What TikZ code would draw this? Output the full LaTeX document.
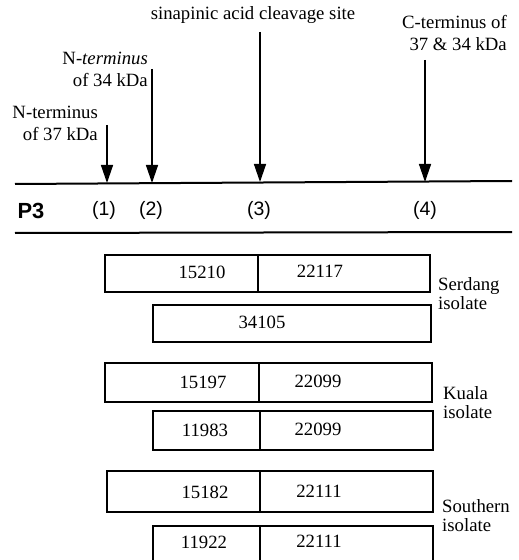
\documentclass[tikz,border=0pt]{standalone}
\usepackage{fontspec}
\setmainfont{Liberation Serif}
\setsansfont{Liberation Sans}
\usetikzlibrary{arrows.meta}
\tikzset{
  segbox/.style={draw=black, line width=1.6bp, rectangle, inner sep=0pt},
  numtxt/.style={font=\fontsize{18.8}{22}\selectfont, inner sep=0pt},
  sitelab/.style={font=\fontsize{18.8}{22}\selectfont, align=right, inner sep=0pt},
  isolab/.style={font=\fontsize{18.8}{19}\selectfont, align=left, anchor=west, inner sep=0pt},
  poslab/.style={font=\sffamily\fontsize{19.5}{22}\selectfont, inner sep=0pt},
  sitearrow/.style={line width=1.4bp, -{Triangle[width=12bp,length=18bp]}},
}
% two boxes side by side: name, left x, divider x, right x, centre y, height
\newcommand{\segpair}[6]{%
  \node[segbox, minimum width={(#3-#2)*1bp}, minimum height=#6bp] (#1a) at ({(#2+#3)/2},#5) {};
  \node[segbox, minimum width={(#4-#3)*1bp}, minimum height=#6bp] (#1b) at ({(#3+#4)/2},#5) {};}

\begin{document}
\begin{tikzpicture}[x=1bp,y=-1bp]
\path[use as bounding box] (0,0) rectangle (519,560);
\clip (0,0) rectangle (519,560);
% the P3 strip
\coordinate (topL) at (15,184); \coordinate (topR) at (512,181);
\coordinate (botL) at (15,233); \coordinate (botR) at (512,232);
\draw[line width=2bp] (topL) -- (topR);
\draw[line width=2bp] (botL) -- (botR);
\node[poslab, font=\sffamily\bfseries\fontsize{22}{24}\selectfont] (p3) at (31,211) {P3};
\node[poslab] (pos1) at (104,210) {(1)};
\node[poslab] (pos2) at (151,210) {(2)};
\node[poslab] (pos3) at (259,210) {(3)};
\node[poslab] (pos4) at (425,210) {(4)};
% sites
\coordinate (s1) at (107,125); \coordinate (e1) at (107,183);
\coordinate (s2) at (152,69);  \coordinate (e2) at (152,183);
\coordinate (s3) at (260,32);  \coordinate (e3) at (260,182);
\coordinate (s4) at (425,60);  \coordinate (e4) at (425,182);
\draw[sitearrow] (s1) -- (e1);
\draw[sitearrow] (s2) -- (e2);
\draw[sitearrow] (s3) -- (e3);
\draw[sitearrow] (s4) -- (e4);
\node[sitelab, anchor=east] (nt37) at (98,123) {N-terminus\\of 37 kDa};
\node[sitelab, anchor=east] (nt34) at (148,69) {N-\textit{terminus}\\of 34 kDa};
\node[sitelab] (sacs) at (253,15) {sinapinic acid cleavage site};
\node[sitelab, anchor=east] (ct) at (507,33) {C-terminus of\\37 \& 34 kDa};
% Serdang
\segpair{ser1}{105}{258}{430}{273.5}{37}
\node[segbox, minimum width=278bp, minimum height=37bp] (ser2) at (292,323.5) {};
\node[numtxt] (v15210) at (202,272) {15210};
\node[numtxt] (v22117) at (320,271) {22117};
\node[numtxt] (v34105) at (262,322) {34105};
\node[isolab] (serdang) at (438,294) {Serdang\\isolate};
% Kuala
\segpair{kua1}{105}{259}{432}{382.5}{39}
\segpair{kua2}{153}{260}{433}{430.5}{39}
\node[numtxt] (v15197) at (203,382) {15197};
\node[numtxt] (v22099a) at (318,381) {22099};
\node[numtxt] (v11983) at (205,430) {11983};
\node[numtxt] (v22099b) at (318,429) {22099};
\node[isolab] (kuala) at (443,403) {Kuala\\isolate};
% Southern
\segpair{sou1}{107}{260}{433}{491.5}{41}
\segpair{sou2}{153}{260}{433}{546}{40}
\node[numtxt] (v15182) at (205,492) {15182};
\node[numtxt] (v22111a) at (319,491) {22111};
\node[numtxt] (v11922) at (204,542) {11922};
\node[numtxt] (v22111b) at (319,541) {22111};
\node[isolab] (southern) at (442,516) {Southern\\isolate};
\end{tikzpicture}
\end{document}
